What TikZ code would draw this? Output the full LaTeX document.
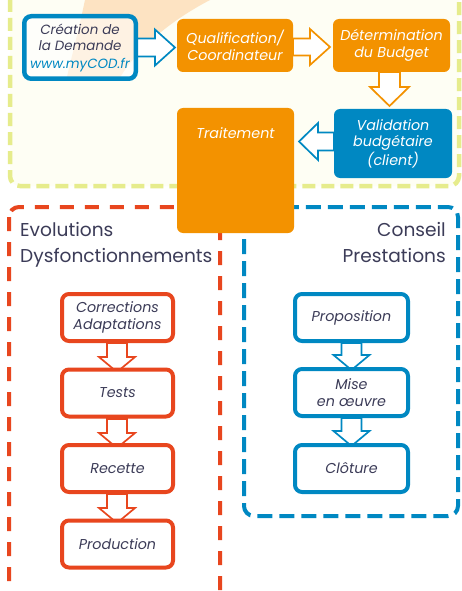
\documentclass[tikz,border=0pt]{standalone}
\usepackage{fontspec}
\setmainfont{Poppins}
\usetikzlibrary{calc}
\definecolor{cor}{HTML}{F39200}
\definecolor{cblue}{HTML}{0088C2}
\definecolor{cred}{HTML}{E8461E}
\definecolor{cyel}{HTML}{E6EC8C}
\definecolor{ccream}{HTML}{FEFEF4}
\definecolor{cpeach}{HTML}{FDE3C2}
\definecolor{ctxt}{HTML}{3C3C58}
% hollow block arrow: #1 style, #2 from, #3 to, #4 shaft half, #5 head half, #6 head length
\newcommand\hollowarrow[6]{%
  \draw[#1] let \p1=(#2), \p2=(#3), \n1={atan2(\y2-\y1,\x2-\x1)}, \n2={veclen(\x2-\x1,\y2-\y1)} in
    [shift={(\p1)}, rotate=\n1] (0,#4) -- ({\n2-#6},#4) -- ({\n2-#6},#5) -- ({\n2},0)
    -- ({\n2-#6},-#5) -- ({\n2-#6},-#4) -- (0,-#4) -- cycle;}
\tikzset{
  boxtext/.style={font=\itshape\fontsize{14.3}{16.8}\selectfont, align=center, inner sep=0pt},
  orbox/.style={boxtext, fill=cor, text=white, rounded corners=6pt},
  bluefill/.style={boxtext, fill=cblue, text=white, rounded corners=6pt},
  redbox/.style={boxtext, draw=cred, line width=4pt, fill=white, text=ctxt, rounded corners=7pt,
     minimum width=111pt, minimum height=47pt},
  bluebox/.style={boxtext, draw=cblue, line width=4pt, fill=white, text=ctxt, rounded corners=7pt,
     minimum width=113pt, minimum height=47pt},
  harr/.style={draw=#1, line width=1.7pt, fill=white, line join=miter},
  title/.style={font=\fontsize{18.6}{22}\selectfont, text=ctxt, inner sep=0pt},
}
\begin{document}
\begin{tikzpicture}[x=1pt, y=-1pt]
\useasboundingbox (0,0) rectangle (462,591);
\fill[white] (0,0) rectangle (462,591);
% top area
\draw[cyel, line width=4.5pt, dash pattern=on 13pt off 6pt, fill=ccream, rounded corners=10pt]
  (10,-30) rectangle (459,186);
\fill[cpeach] (86,-5) .. controls (80,25) and (72,55) .. (66,81) -- (118,81)
  .. controls (135,50) and (172,18) .. (220,-5) -- cycle;
% lower containers
\draw[cred, line width=4pt, dash pattern=on 14pt off 11pt, rounded corners=10pt]
  (9,207) rectangle (220,615);
\draw[cblue, line width=4pt, dash pattern=on 15pt off 7pt, rounded corners=10pt]
  (244,207) rectangle (458,516);
\node[title, anchor=base west] (evo) at (20,236) {Evolutions};
\node[title, anchor=base west] (dys) at (20,262) {Dysfonctionnements};
\node[title, anchor=base east] (cons) at (446,236) {Conseil};
\node[title, anchor=base east] (pres) at (446,262) {Prestations};
% top row (arrow end points)
\coordinate (creaE) at (136,47.5);
\coordinate (qualW) at (177,47.5);
\coordinate (qualE) at (293,47);
\coordinate (detW) at (333,47);
\coordinate (detS) at (389.5,72);
\coordinate (valN) at (389.5,109);
\coordinate (valW) at (334,141.5);
\coordinate (traitE) at (294,141.5);
\hollowarrow{harr=cblue}{creaE}{$(qualW)+(-2,0)$}{9}{18}{20}
\hollowarrow{harr=cor}{qualE}{$(detW)+(-3,0)$}{8.5}{18}{20}
\hollowarrow{harr=cor}{detS}{$(valN)+(0,-3)$}{10.5}{19.5}{19}
\hollowarrow{harr=cblue}{valW}{$(traitE)+(5,0)$}{9}{18.5}{19}
\node[boxtext, font=\itshape\fontsize{13.4}{16.5}\selectfont, draw=cblue, line width=4.5pt,
  fill=white, fill opacity=0.55, text opacity=1,
  text=ctxt, rounded corners=7pt, minimum width=111.5pt, minimum height=62.5pt] (crea) at (80,47.5)
  {Création de\\la Demande\\[1pt]{\color{cblue}www.myCOD.fr}};
\node[orbox, minimum width=116pt, minimum height=53pt] (qual) at (235,45.5) {Qualification/\\Coordinateur};
\node[orbox, minimum width=117pt, minimum height=53pt] (det) at (391.5,45.5) {Détermination\\du Budget};
\node[bluefill, minimum width=118pt, minimum height=69pt] (val) at (393,143.5) {Validation\\budgétaire\\(client)};
\node[orbox, minimum width=117pt, minimum height=125pt] (trait) at (235.5,170.5) {};
\node[boxtext, text=white, anchor=base] (traitlbl) at (235.5,139) {Traitement};
% red chain
\hollowarrow{harr=cred}{$(117,343)$}{$(117,372)$}{10}{18}{15}
\hollowarrow{harr=cred}{$(117,419)$}{$(117,448)$}{10}{18}{15}
\hollowarrow{harr=cred}{$(117,494)$}{$(117,523)$}{10}{18}{15}
\node[redbox] (corr) at (117.5,317.5) {Corrections\\Adaptations};
\node[redbox] (tests) at (117.5,393) {Tests};
\node[redbox] (rec) at (117.5,468.5) {Recette};
\node[redbox] (prod) at (117.5,544) {Production};
% blue chain
\hollowarrow{harr=cblue}{$(351.5,343)$}{$(351.5,370)$}{10}{18}{15}
\hollowarrow{harr=cblue}{$(351.5,418)$}{$(351.5,446)$}{10}{18}{15}
\node[bluebox] (prop) at (351.5,317.5) {Proposition};
\node[bluebox] (mise) at (351.5,392.5) {Mise\\en œuvre};
\node[bluebox] (clot) at (351.5,468.5) {Clôture};
\end{tikzpicture}
\end{document}
